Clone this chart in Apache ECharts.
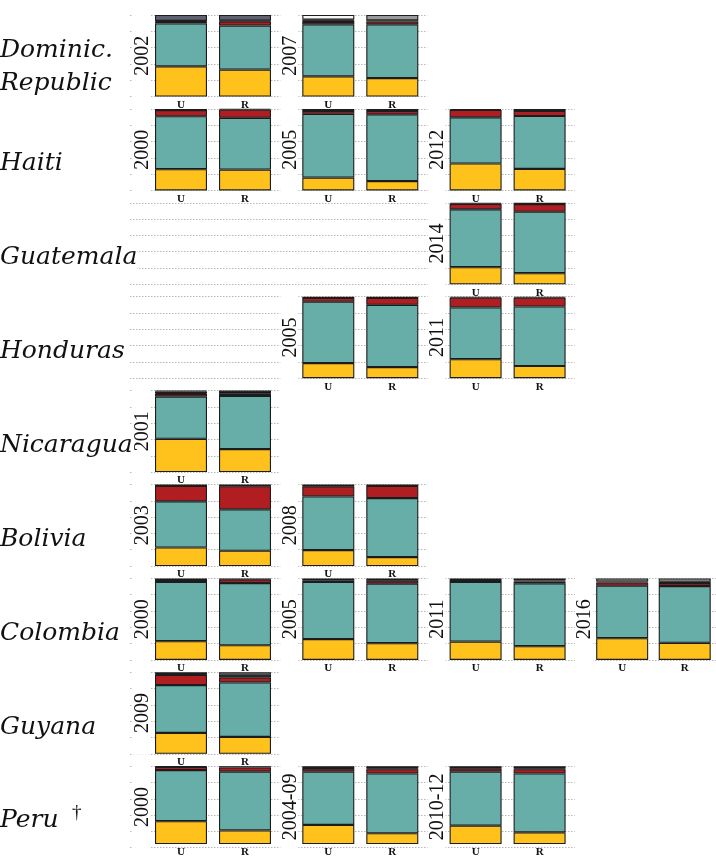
<!DOCTYPE html>
<html>
<head>
<meta charset="utf-8">
<script src="https://cdn.jsdelivr.net/npm/echarts@6/dist/echarts.min.js"></script>
<style>
html,body{margin:0;padding:0;background:#fff;}
#chart{width:716px;height:858px;}
</style>
</head>
<body>
<div id="chart"></div>
<script>
// ---- data ----
const countries = ['Dominic.\nRepublic', 'Haiti', 'Guatemala', 'Honduras', 'Nicaragua', 'Bolivia', 'Colombia', 'Guyana', 'Peru'];
const areas = ['U', 'R'];
const panelCountry = [0, 0, 1, 1, 1, 2, 3, 3, 4, 5, 5, 6, 6, 6, 6, 7, 8, 8, 8];
const panelColumn  = [0, 1, 0, 1, 2, 2, 1, 2, 0, 0, 1, 0, 1, 2, 3, 0, 0, 1, 2];
const panelYear = ['2002', '2007', '2000', '2005', '2012', '2014', '2005', '2011', '2001', '2003', '2008',
                   '2000', '2005', '2011', '2016', '2009', '2000', '2004-09', '2010-12'];
// each entry: [U, R] shares (%)
const yellow = [[37, 33], [24.7, 22.6], [26, 25.5], [15.7, 11.5], [33, 26.3], [21, 13.6], [18.5, 13.6], [23.3, 15],
  [40.8, 28.2], [22.7, 18.7], [19.5, 11], [23, 18], [25.5, 20.5], [22.5, 16.8], [26.7, 20.9], [25.6, 20.7],
  [29.4, 17.5], [24.5, 13.8], [23.6, 15]];
const teal = [[52.7, 54], [63.8, 65.9], [65, 63.5], [78.3, 81.9], [56.7, 65], [71, 75.4], [75.3, 76.4], [63.6, 73],
  [51.8, 65.3], [56.6, 50.8], [65.9, 72.3], [72.6, 76.3], [70.1, 73], [73.1, 77.1], [64.3, 69.7], [58.7, 66.9],
  [65.6, 75.5], [68.5, 76.8], [69.4, 75.6]];
const red = [[2, 5], [3, 3.5], [7.5, 10], [3.5, 4.1], [9, 6.2], [6.8, 9.4], [4.6, 8.4], [11.8, 10.7],
  [3.4, 2.5], [19, 28.5], [12.2, 15], [2.4, 4.1], [2, 3.7], [1.4, 2.4], [4.1, 3.7], [12.4, 6.2],
  [4.2, 5.3], [3.7, 5.6], [4.1, 5.6]];
const black = [[1, 1], [2, 1.5], [1.5, 1], [2.5, 2.5], [1.3, 2.5], [1.2, 1.6], [1.6, 1.6], [1.3, 1.3],
  [1, 4], [1.7, 2], [0.5, 1.7], [2, 1.6], [2.4, 2.8], [0.6, 1.2], [1, 1.5], [0.8, 3.2],
  [0.8, 1.7], [0.5, 1], [0.5, 1]];
const slate = [[7.3, 7], [0, 0], [0, 0], [0, 0], [0, 0], [0, 0], [0, 0], [0, 0],
  [0, 0], [0, 0], [0, 0], [0, 0], [0, 0], [0, 0], [0, 0], [0, 0],
  [0, 0], [0, 0], [0, 0]];
const gray = [[0, 0], [1, 6.5], [0, 0], [0, 0], [0, 0], [0, 0], [0, 0], [0, 0],
  [2, 0], [0, 0], [1.9, 0], [0, 0], [0, 0], [2.4, 2.5], [3.9, 4.2], [0, 0],
  [0, 0], [2.8, 2.8], [2.4, 2.8]];
const white = [[0, 0], [5.5, 0], [0, 0], [0, 0], [0, 0], [0, 0], [0, 0], [0, 0],
  [1, 0], [0, 0], [0, 0], [0, 0], [0, 0], [0, 0], [0, 0], [2.5, 3],
  [0, 0], [0, 0], [0, 0]];
const gridTicks = [0, 20, 40, 60, 80, 100];

// ---- styles / layout ----
const layers = [
  { data: yellow, color: '#FFC11B' },
  { data: teal,   color: '#67AEA9' },
  { data: red,    color: '#B11E22' },
  { data: black,  color: '#151515' },
  { data: slate,  color: '#5E6270' },
  { data: gray,   color: '#9A9A9A' },
  { data: white,  color: '#F7F7F7' }
];
const ROW_TOP0 = 15, ROW_PITCH = 93.9, PLOT_H = 81.5;
const BAR_LEFT0 = 149, COL_PITCH = 147.3, BAR_AREA_W = 128;
const SERIF = '"Liberation Serif", "DejaVu Serif", serif';
const ITALIC_SERIF = '"DejaVu Serif", serif';

const grids = [], xAxes = [], yAxes = [], series = [], graphics = [], titles = [];

function rowTop(r) { return ROW_TOP0 + r * ROW_PITCH; }
function barLeft(c) { return BAR_LEFT0 + c * COL_PITCH; }

// background grids (dotted gridlines) per row
countries.forEach((name, r) => {
  let lastCol = 0;
  panelCountry.forEach((pc, i) => { if (pc === r) lastCol = Math.max(lastCol, panelColumn[i]); });
  const gi = grids.length;
  grids.push({ left: barLeft(0) - 19, top: rowTop(r), width: lastCol * COL_PITCH + 150, height: PLOT_H, containLabel: false });
  xAxes.push({ type: 'value', gridIndex: gi, show: false, min: 0, max: 1 });
  yAxes.push({
    type: 'value', gridIndex: gi, min: gridTicks[0], max: gridTicks[gridTicks.length - 1],
    interval: gridTicks[1] - gridTicks[0],
    axisLine: { show: false }, axisTick: { show: false }, axisLabel: { show: false },
    splitLine: { show: true, showMinLine: true, showMaxLine: true, lineStyle: { color: '#b8b8b8', width: 1, type: [1.5, 1.5] } }
  });
  // country label
  const centre = rowTop(r) + PLOT_H / 2;
  const twoLines = name.indexOf('\n') >= 0;
  titles.push({
    text: name, left: 0, top: twoLines ? 34 : centre + 14 - 16.5, padding: 0,
    backgroundColor: '#fff', z: 10,
    textStyle: { fontStyle: 'italic', fontWeight: 'normal', fontSize: 25, fontFamily: ITALIC_SERIF, color: '#111', lineHeight: 33 }
  });
  if (name === 'Peru') {
    graphics.push({
      type: 'text', x: 72, y: centre + 6, z: 11,
      style: { text: '\u2020', fontSize: 19, fontFamily: SERIF, fill: '#111', textAlign: 'left', textVerticalAlign: 'middle', align: 'left', verticalAlign: 'middle' }
    });
  }
});

// panels
panelYear.forEach((year, i) => {
  const r = panelCountry[i], c = panelColumn[i];
  const gi = grids.length;
  const top = rowTop(r), left = barLeft(c);
  grids.push({ left: left, top: top, width: BAR_AREA_W, height: PLOT_H, containLabel: false });
  xAxes.push({
    type: 'category', gridIndex: gi, data: areas,
    axisLine: { show: false }, axisTick: { show: false },
    axisLabel: { margin: 3, fontSize: 11, fontWeight: 'bold', fontFamily: SERIF, color: '#111' }
  });
  yAxes.push({ type: 'value', gridIndex: gi, min: 0, max: 100, show: false });
  layers.forEach((L) => {
    series.push({
      type: 'bar', xAxisIndex: gi, yAxisIndex: gi, stack: 'p' + i, barWidth: 52,
      data: L.data[i].map(v => (v > 0 ? v : '-')),
      itemStyle: { color: L.color, borderColor: '#1c1c1c', borderWidth: 1.1 },
      silent: true, animation: false, z: 3
    });
  });
  // year strip
  graphics.push({
    type: 'rect', z: 1, silent: true,
    shape: { x: left - 16, y: top - 1, width: 18, height: PLOT_H + 2 },
    style: { fill: '#fff' }
  });
  graphics.push({
    type: 'text', z: 2, x: left - 6, y: top + PLOT_H / 2, rotation: Math.PI / 2, silent: true,
    style: { text: year, fontSize: 20, fontFamily: SERIF, fill: '#111', textAlign: 'center', textVerticalAlign: 'middle', align: 'center', verticalAlign: 'middle' }
  });
});

const chart = echarts.init(document.getElementById('chart'), null, { renderer: 'canvas' });
chart.setOption({
  backgroundColor: '#fff',
  animation: false,
  title: titles,
  grid: grids,
  xAxis: xAxes,
  yAxis: yAxes,
  series: series,
  graphic: { elements: graphics }
});
</script>
</body>
</html>
